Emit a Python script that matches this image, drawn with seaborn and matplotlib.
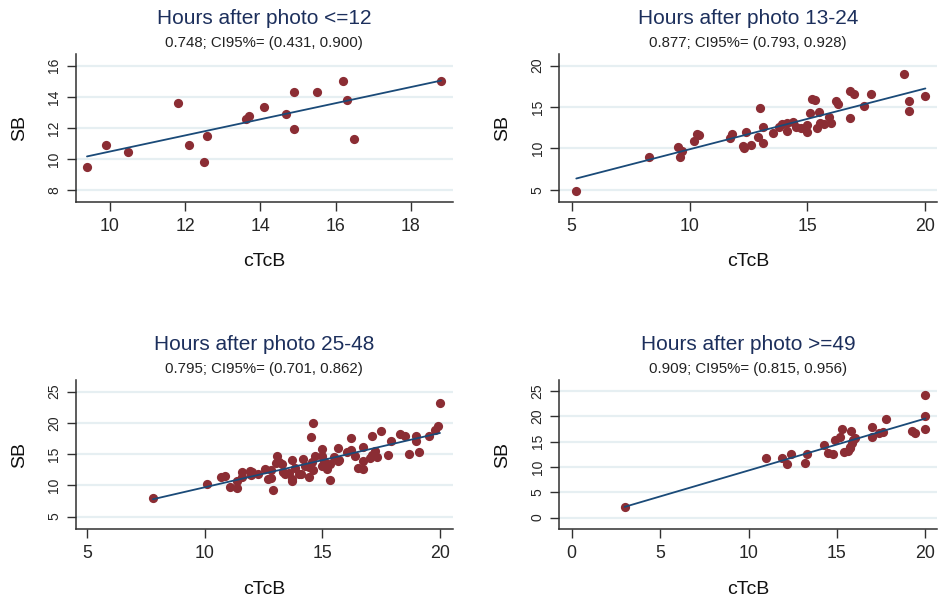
import numpy as np
import pandas as pd
import matplotlib
matplotlib.use("Agg")
import matplotlib.pyplot as plt
import seaborn as sns

# ---------------- data ----------------
titles = ["Hours after photo <=12", "Hours after photo 13-24",
          "Hours after photo 25-48", "Hours after photo >=49"]
subtitles = ["0.748; CI95%= (0.431, 0.900)", "0.877; CI95%= (0.793, 0.928)",
             "0.795; CI95%= (0.701, 0.862)", "0.909; CI95%= (0.815, 0.956)"]

x1 = [9.39, 9.89, 10.49, 11.80, 12.09, 12.49, 12.59, 13.61, 13.70, 14.09,
      14.69, 14.89, 14.89, 15.50, 16.19, 16.30, 16.50, 18.80]
y1 = [9.49, 10.92, 10.47, 13.60, 10.90, 9.83, 11.49, 12.56, 12.75, 13.37,
      12.88, 14.28, 11.96, 14.34, 15.00, 13.79, 11.32, 15.00]

x2 = [5.2, 8.3, 9.5, 9.6, 9.7, 10.2, 10.33, 10.41, 11.71, 11.8, 12.28, 12.31,
      12.59, 12.39, 12.99, 12.92, 13.1, 13.1, 13.52, 13.81, 13.91, 14.12, 14.12,
      14.4, 14.51, 14.71, 14.98, 15.0, 15.11, 15.18, 15.3, 15.39, 15.49, 15.53,
      15.71, 15.91, 16.0, 16.19, 16.31, 16.8, 16.99, 16.8, 17.41, 17.69, 19.11,
      19.3, 19.3, 20.0]
y2 = [4.9, 9.0, 10.15, 8.95, 9.7, 10.85, 11.73, 11.6, 11.3, 11.73, 10.28, 10.1,
      10.44, 11.98, 14.92, 11.41, 10.69, 12.54, 11.81, 12.62, 12.9, 13.1, 12.14,
      13.19, 12.62, 12.46, 12.82, 12.02, 14.31, 16.0, 15.8, 12.42, 14.44, 13.02,
      12.94, 13.83, 13.1, 15.77, 15.36, 16.94, 16.53, 13.63, 15.12, 16.53, 18.99,
      15.77, 14.56, 16.33]

x3 = [7.81, 10.11, 10.69, 10.88, 11.10, 11.40, 11.40, 11.60, 11.61, 11.92, 11.99,
      12.00, 12.29, 12.58, 12.71, 12.81, 12.81, 12.91, 13.09, 13.02, 13.16, 13.31,
      13.32, 13.43, 13.59, 13.70, 13.70, 13.70, 13.86, 14.01, 14.11, 14.19, 14.28,
      14.44, 14.44, 14.51, 14.62, 14.58, 14.60, 14.70, 15.00, 14.97, 14.97, 15.06,
      15.14, 15.20, 15.32, 15.31, 15.48, 15.68, 15.68, 15.73, 16.05, 16.20, 16.20,
      16.38, 16.50, 16.72, 16.72, 16.72, 17.02, 17.10, 17.10, 17.22, 17.33, 17.51,
      17.80, 17.91, 18.31, 18.50, 18.70, 18.99, 18.99, 19.09, 19.52, 19.79, 19.90,
      20.00]
y3 = [7.99, 10.28, 11.35, 11.56, 9.80, 9.64, 10.76, 11.30, 12.20, 12.36, 11.61,
      12.20, 11.77, 12.63, 10.97, 11.19, 12.52, 9.21, 14.71, 13.64, 13.80, 13.37,
      12.20, 11.88, 11.93, 14.12, 10.97, 10.65, 12.84, 11.83, 11.77, 14.23, 13.16,
      12.89, 11.29, 17.69, 19.93, 13.75, 12.52, 14.65, 15.83, 14.65, 13.10, 13.96,
      13.43, 12.68, 13.37, 10.81, 14.55, 15.99, 13.85, 14.07, 15.40, 17.64, 15.67,
      14.65, 12.73, 16.09, 12.57, 13.96, 14.39, 14.87, 17.85, 15.45, 14.55, 18.76,
      14.87, 17.11, 18.23, 17.96, 14.97, 17.85, 17.05, 15.40, 17.85, 18.92, 19.51,
      23.19]

x4 = [3.0, 10.99, 11.88, 12.16, 12.38, 13.2, 13.29, 14.29, 14.51, 14.80, 14.89,
      15.17, 15.31, 15.40, 15.65, 15.80, 15.74, 15.83, 15.93, 16.02, 15.74, 17.0,
      17.0, 17.4, 17.62, 17.78, 19.23, 19.42, 20.0, 20.0, 20.0]
y4 = [2.13, 11.8, 11.8, 10.67, 12.53, 10.87, 12.6, 14.33, 12.73, 12.53, 15.33,
      16.0, 17.53, 13.0, 13.13, 17.13, 14.0, 14.67, 15.33, 15.8, 13.67, 18.0,
      16.0, 16.8, 17.0, 19.53, 17.13, 16.67, 24.33, 20.0, 17.47]

xticks = [[10, 12, 14, 16, 18], [5, 10, 15, 20], [5, 10, 15, 20], [0, 5, 10, 15, 20]]
yticks = [[8, 10, 12, 14, 16], [5, 10, 15, 20], [5, 10, 15, 20, 25], [0, 5, 10, 15, 20, 25]]
xlims = [(9.09, 19.11), (4.48, 20.48), (4.53, 20.54), (-0.70, 20.64)]
ylims = [(7.27, 16.73), (3.55, 21.37), (2.97, 26.87), (-2.33, 27.2)]

xs = [x1, x2, x3, x4]
ys = [y1, y2, y3, y4]

# ---------------- style ----------------
sns.set_style("white")
plt.rcParams['font.family'] = ['Liberation Sans', 'DejaVu Sans']

W, H = 940, 597
fig = plt.figure(figsize=(W / 100, H / 100), dpi=100)

# axes boxes in pixels: left, top, right, bottom
boxes = [(75.7, 54.3, 452.7, 201.7), (559.3, 54.3, 936.7, 201.7),
         (75.7, 380.0, 452.7, 529.3), (559.3, 380.0, 936.7, 529.3)]
ylab_x = [20, 503, 20, 503]

dot_color = "#8b2d34"
line_color = "#1a4a78"
title_color = "#1c2f5c"
grid_color = "#e6eff2"
spine_color = "#303030"

for i in range(4):
    l, t, r, b = boxes[i]
    ax = fig.add_axes([l / W, 1 - b / H, (r - l) / W, (b - t) / H])
    df = pd.DataFrame({"cTcB": xs[i], "SB": ys[i]})
    sns.regplot(data=df, x="cTcB", y="SB", ax=ax, ci=None, truncate=True,
                scatter_kws=dict(s=44, color=dot_color, linewidths=0, alpha=1, zorder=3),
                line_kws=dict(color=line_color, lw=1.3, zorder=4))
    ax.set_xlim(*xlims[i])
    ax.set_ylim(*ylims[i])
    ax.set_xticks(xticks[i])
    ax.set_yticks(yticks[i])
    ax.set_xticklabels([str(v) for v in xticks[i]], fontsize=12.8)
    ax.set_yticklabels([str(v) for v in yticks[i]], fontsize=10, rotation=90, va='center')
    ax.tick_params(axis='both', direction='out', length=6.5, width=1.0, color=spine_color,
                   bottom=True, left=True)
    ax.tick_params(axis='x', pad=5)
    ax.tick_params(axis='y', pad=4)
    for side in ['top', 'right']:
        ax.spines[side].set_visible(False)
    for side in ['left', 'bottom']:
        ax.spines[side].set_color(spine_color)
        ax.spines[side].set_linewidth(1.1)
    ax.grid(False)
    for yv in yticks[i]:
        ax.axhline(yv, color=grid_color, lw=1.6, zorder=0)
    ax.set_xlabel("")
    ax.set_ylabel("")
    cx = (l + r) / 2
    fig.text(cx / W, 1 - (t - 36) / H, titles[i], ha='center', va='center',
             fontsize=15, color=title_color)
    fig.text(cx / W, 1 - (t - 11.5) / H, subtitles[i], ha='center', va='center',
             fontsize=10.8, color="#222222")
    fig.text(cx / W, 1 - (b + 60) / H, "cTcB", ha='center', va='center',
             fontsize=14, color="#111111")
    fig.text(ylab_x[i] / W, 1 - ((t + b) / 2) / H, "SB", ha='center', va='center',
             fontsize=14, rotation=90, color="#111111")

fig.savefig("out.png", dpi=100, facecolor="white")
